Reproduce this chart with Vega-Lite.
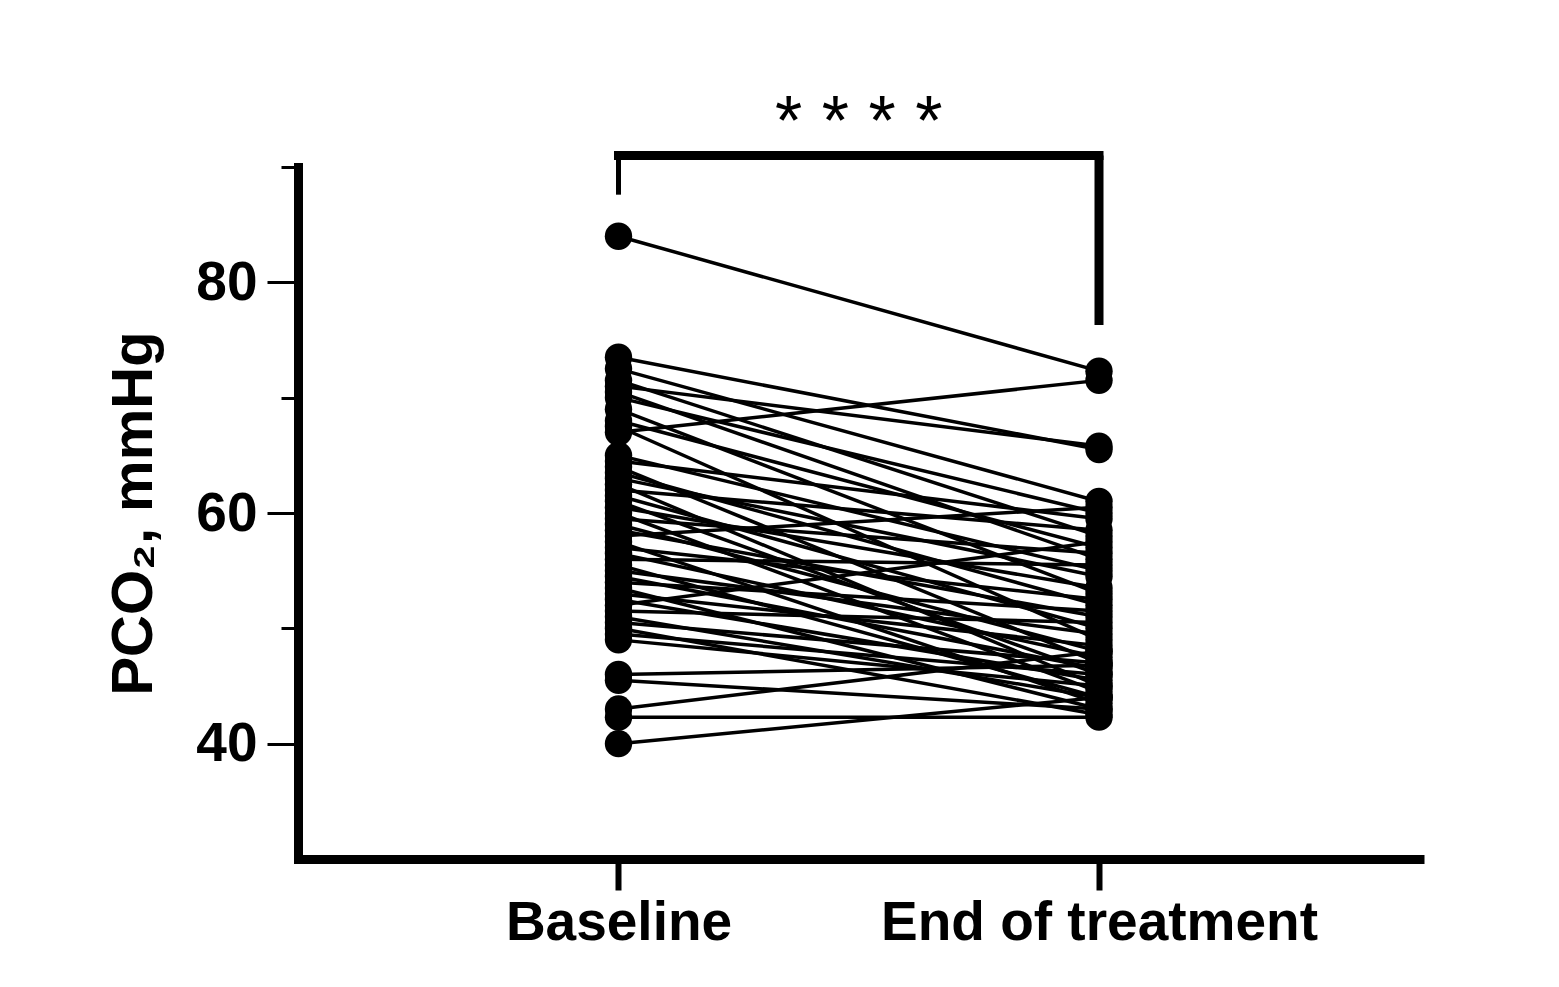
{
  "$schema": "https://vega.github.io/schema/vega-lite/v6.json",
  "width": 1121.5,
  "height": 692,
  "autosize": {"type": "none"},
  "padding": {"left": 298, "top": 167, "right": 139.5, "bottom": 128},
  "background": "white",
  "config": {
    "view": {"stroke": null},
    "font": "Liberation Sans",
    "axis": {"grid": false, "labelFont": "Liberation Sans", "titleFont": "Liberation Sans"}
  },
  "title": {
    "text": "* * * *",
    "font": "Liberation Sans",
    "fontSize": 70,
    "fontWeight": "normal",
    "color": "black",
    "frame": "group",
    "anchor": "middle",
    "baseline": "alphabetic",
    "offset": -66
  },
  "datasets": {
    "subjects": [
      {"id": 1, "Baseline": 84.0, "End of treatment": 72.3},
      {"id": 2, "Baseline": 73.5, "End of treatment": 65.5},
      {"id": 3, "Baseline": 72.5, "End of treatment": 61.0},
      {"id": 4, "Baseline": 71.5, "End of treatment": 58.0},
      {"id": 5, "Baseline": 71.0, "End of treatment": 65.8},
      {"id": 6, "Baseline": 70.5, "End of treatment": 56.0},
      {"id": 7, "Baseline": 70.0, "End of treatment": 60.0},
      {"id": 8, "Baseline": 69.0, "End of treatment": 53.0},
      {"id": 9, "Baseline": 68.0, "End of treatment": 57.0},
      {"id": 10, "Baseline": 67.5, "End of treatment": 49.0},
      {"id": 11, "Baseline": 67.0, "End of treatment": 71.5},
      {"id": 12, "Baseline": 65.0, "End of treatment": 55.0},
      {"id": 13, "Baseline": 64.5, "End of treatment": 59.5},
      {"id": 14, "Baseline": 64.0, "End of treatment": 47.0},
      {"id": 15, "Baseline": 63.5, "End of treatment": 52.0},
      {"id": 16, "Baseline": 63.0, "End of treatment": 54.5},
      {"id": 17, "Baseline": 62.5, "End of treatment": 45.0},
      {"id": 18, "Baseline": 62.0, "End of treatment": 58.5},
      {"id": 19, "Baseline": 61.5, "End of treatment": 50.0},
      {"id": 20, "Baseline": 61.0, "End of treatment": 46.0},
      {"id": 21, "Baseline": 60.5, "End of treatment": 53.5},
      {"id": 22, "Baseline": 60.0, "End of treatment": 44.5},
      {"id": 23, "Baseline": 59.5, "End of treatment": 56.5},
      {"id": 24, "Baseline": 59.0, "End of treatment": 48.0},
      {"id": 25, "Baseline": 58.5, "End of treatment": 51.0},
      {"id": 26, "Baseline": 58.0, "End of treatment": 60.5},
      {"id": 27, "Baseline": 57.5, "End of treatment": 43.5},
      {"id": 28, "Baseline": 57.0, "End of treatment": 52.5},
      {"id": 29, "Baseline": 56.5, "End of treatment": 47.5},
      {"id": 30, "Baseline": 56.0, "End of treatment": 55.5},
      {"id": 31, "Baseline": 55.5, "End of treatment": 44.0},
      {"id": 32, "Baseline": 55.0, "End of treatment": 49.5},
      {"id": 33, "Baseline": 54.5, "End of treatment": 46.5},
      {"id": 34, "Baseline": 54.0, "End of treatment": 51.5},
      {"id": 35, "Baseline": 53.5, "End of treatment": 43.0},
      {"id": 36, "Baseline": 53.0, "End of treatment": 48.5},
      {"id": 37, "Baseline": 52.5, "End of treatment": 45.5},
      {"id": 38, "Baseline": 52.0, "End of treatment": 57.5},
      {"id": 39, "Baseline": 51.5, "End of treatment": 50.5},
      {"id": 40, "Baseline": 51.0, "End of treatment": 44.0},
      {"id": 41, "Baseline": 50.5, "End of treatment": 47.0},
      {"id": 42, "Baseline": 50.0, "End of treatment": 42.5},
      {"id": 43, "Baseline": 49.5, "End of treatment": 46.0},
      {"id": 44, "Baseline": 49.0, "End of treatment": 45.0},
      {"id": 45, "Baseline": 46.0, "End of treatment": 46.8},
      {"id": 46, "Baseline": 45.5, "End of treatment": 43.0},
      {"id": 47, "Baseline": 43.0, "End of treatment": 48.0},
      {"id": 48, "Baseline": 42.3, "End of treatment": 42.3},
      {"id": 49, "Baseline": 40.0, "End of treatment": 44.0}
    ],
    "bracketTop": [{"from": "Baseline", "to": "End of treatment", "level": 91}],
    "bracketLeft": [{"timepoint": "Baseline", "low": 87.6, "high": 91}],
    "bracketRight": [{"timepoint": "End of treatment", "low": 76.3, "high": 91}]
  },
  "resolve": {"axis": {"y": "independent"}},
  "layer": [
    {
      "data": {"name": "subjects"},
      "transform": [{"fold": ["Baseline", "End of treatment"], "as": ["timepoint", "pco2"]}],
      "mark": {"type": "line", "color": "black", "strokeWidth": 3.5},
      "encoding": {
        "x": {
          "field": "timepoint", "type": "nominal",
          "scale": {"type": "point", "domain": ["Baseline", "End of treatment"], "padding": 0.667},
          "axis": {
            "title": null, "labelAngle": 0, "labelFontSize": 55, "labelFontWeight": "bold", "labelColor": "black",
            "labelPadding": 6, "labelLimit": 0, "labelOverlap": false, "labelBound": false,
            "tickSize": 31, "tickWidth": 6, "tickColor": "black",
            "domainWidth": 9, "domainColor": "black", "domainCap": "square"
          }
        },
        "y": {
          "field": "pco2", "type": "quantitative",
          "scale": {"domain": [30, 90], "nice": false, "zero": false},
          "axis": {
            "orient": "left", "values": [40, 60, 80], "tickSize": 31, "tickWidth": 3, "tickColor": "black",
            "labelFontSize": 55, "labelFontWeight": "bold", "labelColor": "black", "labelPadding": 10,
            "domainWidth": 9, "domainColor": "black", "domainCap": "square",
            "title": "PCO₂, mmHg", "titleFontSize": 58, "titleFontWeight": "bold", "titleColor": "black", "titlePadding": 32
          }
        },
        "detail": {"field": "id", "type": "nominal"}
      }
    },
    {
      "data": {"name": "subjects"},
      "transform": [{"fold": ["Baseline", "End of treatment"], "as": ["timepoint", "pco2"]}],
      "mark": {"type": "point", "filled": true, "color": "black", "opacity": 1, "size": 750},
      "encoding": {
        "x": {"field": "timepoint", "type": "nominal", "scale": {"type": "point", "domain": ["Baseline", "End of treatment"], "padding": 0.667}},
        "y": {
          "field": "pco2", "type": "quantitative",
          "scale": {"domain": [30, 90], "nice": false, "zero": false},
          "axis": {"orient": "left", "values": [50, 70, 90], "labels": false, "domain": false, "tickSize": 17, "tickWidth": 3, "tickColor": "black", "title": null}
        }
      }
    },
    {
      "data": {"name": "bracketTop"},
      "mark": {"type": "rule", "color": "black", "strokeWidth": 9, "strokeCap": "square"},
      "encoding": {
        "x": {"field": "from", "type": "nominal", "scale": {"type": "point", "domain": ["Baseline", "End of treatment"], "padding": 0.667}},
        "x2": {"field": "to"},
        "y": {"field": "level", "type": "quantitative", "scale": {"domain": [30, 90], "nice": false, "zero": false}, "axis": null}
      }
    },
    {
      "data": {"name": "bracketLeft"},
      "mark": {"type": "rule", "color": "black", "strokeWidth": 5},
      "encoding": {
        "x": {"field": "timepoint", "type": "nominal", "scale": {"type": "point", "domain": ["Baseline", "End of treatment"], "padding": 0.667}},
        "y": {"field": "low", "type": "quantitative", "scale": {"domain": [30, 90], "nice": false, "zero": false}, "axis": null},
        "y2": {"field": "high"}
      }
    },
    {
      "data": {"name": "bracketRight"},
      "mark": {"type": "rule", "color": "black", "strokeWidth": 9},
      "encoding": {
        "x": {"field": "timepoint", "type": "nominal", "scale": {"type": "point", "domain": ["Baseline", "End of treatment"], "padding": 0.667}},
        "y": {"field": "low", "type": "quantitative", "scale": {"domain": [30, 90], "nice": false, "zero": false}, "axis": null},
        "y2": {"field": "high"}
      }
    }
  ]
}
